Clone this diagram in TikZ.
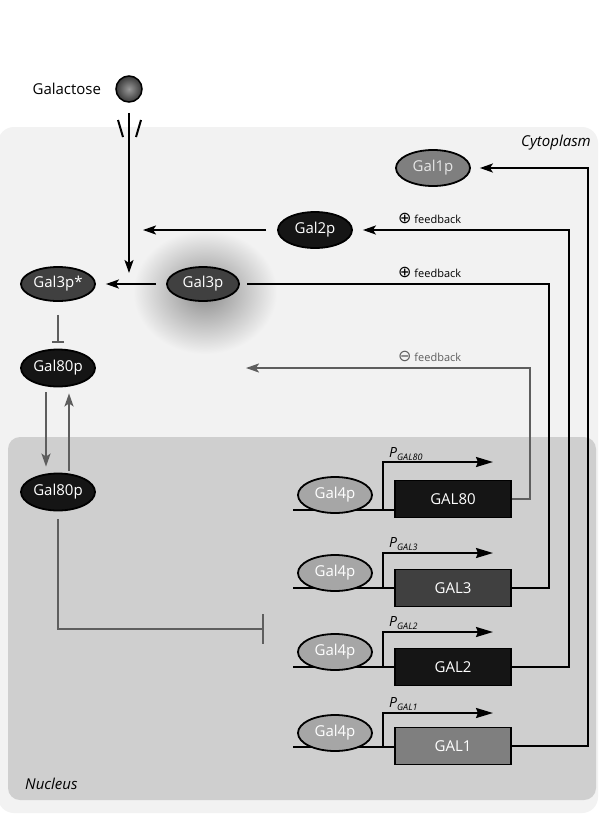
\documentclass[tikz,border=0pt]{standalone}
\usepackage{fontspec}
\setmainfont{Open Sans}
\newfontfamily\symfont{DejaVu Sans}
\usepackage{tikz}
\usetikzlibrary{arrows,arrows.meta,positioning,shapes.geometric}

\definecolor{cytobg}{HTML}{F2F2F2}
\definecolor{nucbg}{HTML}{CFCFCF}
\definecolor{linegray}{HTML}{5E5E5E}
\definecolor{protdark}{HTML}{404040}
\definecolor{protblack}{HTML}{151515}
\definecolor{protmid}{HTML}{7F7F7F}
\definecolor{protlight}{HTML}{A6A6A6}

\newcommand{\fbsign}[1]{{\symfont\fontsize{16}{16}\selectfont #1}}

\begin{document}
\begin{tikzpicture}[x=1pt,y=-1pt,>={Stealth[length=13pt,width=9pt,inset=3pt]},
    prot/.style={ellipse,draw=black,line width=1.8pt,minimum width=74pt,minimum height=36pt,
      inner sep=0pt,text=white,font=\fontsize{15}{18}\selectfont},
    gene/.style={rectangle,draw=black,line width=1.8pt,minimum width=116pt,minimum height=37pt,
      inner sep=0pt,text=white,font=\fontsize{15}{18}\selectfont},
    link/.style={line width=2pt,draw=black},
    glink/.style={line width=2pt,draw=linegray},
    dna/.style={line width=2.3pt,draw=black},
    prom/.style={line width=2pt,draw=black,-{Stealth[length=17pt,width=10pt,inset=2pt]}},
    fb/.style={anchor=west,inner sep=1pt,font=\fontsize{11}{13}\selectfont},
    plabel/.style={anchor=base west,inner sep=0pt,font=\fontsize{14}{16}\selectfont\itshape},
    compart/.style={inner sep=0pt,font=\fontsize{15}{18}\selectfont\itshape}]
    \useasboundingbox (0,0) rectangle (600,815);
    %% compartments
    \fill[white] (0,0) rectangle (600,815);
    \fill[cytobg,rounded corners=16pt] (-2,127) rectangle (598,813);
    \fill[nucbg,rounded corners=12pt] (8,437) rectangle (596,800);
    \shade[inner color=black!45,outer color=cytobg] (205,292) ellipse (72 and 62);
    \node (cyto) [compart,anchor=east] at (591,143) {Cytoplasm};
    \node (nuc) [compart,anchor=west] at (25,784) {Nucleus};

    %% node
    \node (galac) [circle,draw=black,line width=1.5pt,minimum size=26pt,inner sep=0pt,
      shade,shading=radial,inner color=black!40,outer color=black!78] at (129,89) {};
    \node (galtxt) [left=14pt of galac,inner sep=0pt,font=\fontsize{15}{18}\selectfont] {Galactose};
    \node (gal1p) [prot,fill=protmid,text=black!10] at (433,168) {Gal1p};
    \node (gal2p) [prot,fill=protblack] at (315,230) {Gal2p};
    \node (gal3p) [prot,fill=protdark,minimum width=72pt,minimum height=34pt] at (203,284) {Gal3p};
    \node (gal3ps) [prot,fill=protdark,minimum height=34pt] at (58,284) {Gal3p*};
    \node (gal80c) [prot,fill=protblack,minimum height=37pt] at (58,368) {Gal80p};
    \node (gal80n) [prot,fill=protblack,minimum height=37pt] at (58,492) {Gal80p};

    \node (fb2) [fb] at (397,218) {\fbsign{⊕} feedback};
    \node (fb3) [fb] at (397,272) {\fbsign{⊕} feedback};
    \node (fb80) [fb,text=linegray] at (397,356) {\fbsign{⊖} feedback};

    \coordinate (entry) at (129,273);
    \coordinate (g2tip) at (143,230);
    \coordinate (negtip) at (246,368);
    \coordinate (reptip) at (264,629);

    % genes
    \coordinate (tss80) at (383,510);
    \coordinate (tss3) at (383,588);
    \coordinate (tss2) at (383,667);
    \coordinate (tss1) at (383,747);
    \node (gal80) [gene,fill=protblack] at (453,499) {GAL80};
    \node (gal3) [gene,fill=protdark] at (453,588) {GAL3};
    \node (gal2) [gene,fill=protblack] at (453,667) {GAL2};
    \node (gal1) [gene,fill=protmid] at (453,746) {GAL1};
    \draw[dna] (293,510) -- (gal80.west |- tss80);
    \draw[dna] (293,588) -- (gal3.west |- tss3);
    \draw[dna] (293,667) -- (gal2.west |- tss2);
    \draw[dna] (293,747) -- (gal1.west |- tss1);
    \node (gal4a) [prot,fill=protlight] at (335,495) {Gal4p};
    \node (gal4b) [prot,fill=protlight] at (335,573) {Gal4p};
    \node (gal4c) [prot,fill=protlight] at (335,652) {Gal4p};
    \node (gal4d) [prot,fill=protlight] at (335,733) {Gal4p};
    \draw[prom] (tss80) |- ++(110,-48);
    \draw[prom] (tss3) |- ++(110,-35);
    \draw[prom] (tss2) |- ++(110,-35);
    \draw[prom] (tss1) |- ++(110,-34);
    \node (p80) [plabel] at (389,457) {P\raisebox{-3pt}{\fontsize{9}{9}\selectfont GAL80}};
    \node (p3) [plabel] at (389,547) {P\raisebox{-3pt}{\fontsize{9}{9}\selectfont GAL3}};
    \node (p2) [plabel] at (389,626) {P\raisebox{-3pt}{\fontsize{9}{9}\selectfont GAL2}};
    \node (p1) [plabel] at (389,707) {P\raisebox{-3pt}{\fontsize{9}{9}\selectfont GAL1}};

    %% path
    \draw[link] (118,120) -- (123,137);
    \draw[link] (141,120) -- (136,137);
    \draw[link,->] ([yshift=-10pt]galac.south) -- (entry);
    \draw[link,->] ([xshift=-11pt]gal2p.west) -- (g2tip);
    \draw[link,->] ([xshift=-10pt]gal3p.west) -- ([xshift=10pt]gal3ps.east);
    \draw[glink,-{Bar[width=12pt]}] ([yshift=-13pt]gal3ps.south) -- ([yshift=6pt]gal80c.north);
    \draw[glink,->] ([xshift=-12pt,yshift=-5pt]gal80c.south) -- ([xshift=-12pt,yshift=6pt]gal80n.north);
    \draw[glink,->] ([xshift=11pt,yshift=2pt]gal80n.north) -- ([xshift=11pt,yshift=-6pt]gal80c.south);
    \draw[glink,-{Bar[width=30pt]}] ([yshift=-8pt]gal80n.south) |- (reptip);

    \draw[glink,->] (gal80.east) -- ++(18,0) |- (negtip);
    \draw[link] (gal3.east) -- ++(37,0) |- ([xshift=7pt]gal3p.east);
    \draw[link,->] (gal2.east) -- ++(57,0) |- ([xshift=10pt]gal2p.east);
    \draw[link,->] (gal1.east) -- ++(76,0) |- ([xshift=9pt]gal1p.east);
\end{tikzpicture}
\end{document}
